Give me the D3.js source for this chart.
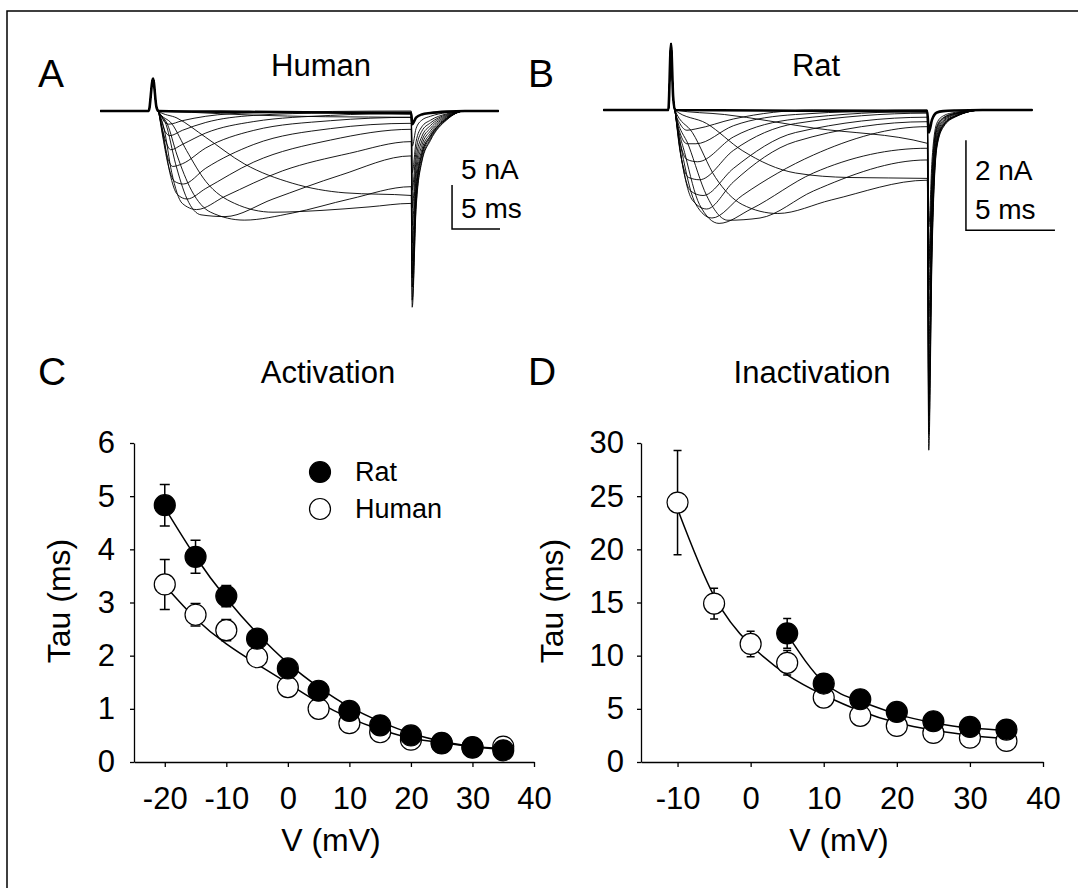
<!DOCTYPE html>
<html>
<head>
<meta charset="utf-8">
<script src="https://cdn.jsdelivr.net/npm/d3@7"></script>
<style>
  body { margin: 0; background: #fff; }
  text { font-family: "Liberation Sans", Arial, sans-serif; fill: #000; }
</style>
</head>
<body>
<svg id="fig" width="1078" height="888"></svg>
<script>
// ---------- data: activation / inactivation time constants ----------
const actV        = [-20, -15, -10, -5, 0, 5, 10, 15, 20, 25, 30, 35];
const actRat      = [4.83, 3.86, 3.12, 2.32, 1.76, 1.34, 0.96, 0.69, 0.50, 0.36, 0.28, 0.22];
const actRatErr   = [0.39, 0.31, 0.20, 0.12, 0.08, 0.06, 0.05, 0.05, 0.04, 0.04, 0.03, 0.03];
const actHuman    = [3.34, 2.77, 2.48, 1.97, 1.41, 1.00, 0.73, 0.56, 0.42, 0.35, 0.27, 0.29];
const actHumanErr = [0.47, 0.21, 0.20, 0.12, 0.08, 0.05, 0.04, 0.04, 0.03, 0.03, 0.03, 0.03];
const actRatFit   = [4.78, 3.86, 3.08, 2.42, 1.86, 1.41, 1.04, 0.76, 0.54, 0.39, 0.29, 0.23];
const actHumanFit = [3.32, 2.70, 2.22, 1.84, 1.48, 1.12, 0.83, 0.61, 0.45, 0.36, 0.29, 0.25];

const inactHumanV   = [-10, -5, 0, 5, 10, 15, 20, 25, 30, 35];
const inactHuman    = [24.4, 14.9, 11.1, 9.33, 6.06, 4.34, 3.39, 2.73, 2.29, 1.98];
const inactHumanErr = [4.9, 1.45, 1.2, 1.15, 0.6, 0.4, 0.3, 0.25, 0.2, 0.2];
const inactHumanFit = [23.8, 15.6, 11.0, 8.2, 6.3, 4.8, 3.7, 3.0, 2.5, 2.2];
const inactRatV     = [5, 10, 15, 20, 25, 30, 35];
const inactRat      = [12.1, 7.38, 5.9, 4.71, 3.83, 3.3, 3.05];
const inactRatErr   = [1.4, 0.6, 0.4, 0.35, 0.3, 0.25, 0.25];
const inactRatFit   = [12.0, 7.5, 5.7, 4.5, 3.7, 3.2, 3.0];

const actXTicks   = [-20, -10, 0, 10, 20, 30, 40];
const actYTicks   = [0, 1, 2, 3, 4, 5, 6];
const inactXTicks = [-10, 0, 10, 20, 30, 40];
const inactYTicks = [0, 5, 10, 15, 20, 25, 30];

// ---------- data: current traces (t in ms, I in nA) ----------
// human: capacitive transient, step currents, tail currents
const humanSpike = [[-5.5, 0], [-0.45, 0], [0, 3.7], [0.35, 0.5], [0.55, 0]];
const humanStep = [
  [[10, -0.1], [26.9, -0.27]],
  [[4, -0.15], [10, -0.45], [18, -0.65], [26.9, -0.72]],
  [[2.5, -0.8], [5.5, -3], [9.5, -6], [14.5, -8.2], [20, -9.3], [26.9, -9.6]],
  [[2, -1.5], [3.5, -4.5], [5.5, -8], [8.5, -10.5], [12.5, -11.5], [17.5, -11.3], [22.5, -10.9], [26.9, -10.5]],
  [[1.5, -1.5], [2.5, -5], [4, -9], [6, -11.5], [9.5, -12.4], [14.5, -11.6], [20.5, -10], [26.9, -8.6]],
  [[1.35, -1.5], [2.35, -6], [3.55, -10], [5, -11.8], [7.5, -12], [12.5, -10], [19.5, -7.3], [26.9, -5.1]],
  [[1.15, -2], [1.95, -7], [3.05, -10.5], [4.55, -11.2], [7.5, -9.7], [13.5, -6.8], [20.5, -4.8], [26.9, -3.48]],
  [[1.05, -2.5], [1.75, -7], [2.55, -9.5], [3.55, -10], [5.5, -8.8], [10.5, -5.8], [18.5, -3.3], [26.9, -2.08]],
  [[0.95, -2.5], [1.55, -6], [2.25, -8], [3.15, -8.3], [5.5, -6.5], [10.5, -3.8], [18.5, -2], [26.9, -1.4]],
  [[0.9, -2], [1.45, -5], [2.05, -6.3], [3.05, -6], [5.5, -4.2], [10.5, -2.2], [18.5, -1.1], [26.9, -0.72]],
  [[0.85, -1.5], [1.35, -3.5], [1.85, -4.4], [3.05, -3.8], [5.5, -2.5], [10.5, -1.2], [18.5, -0.5], [26.9, -0.27]],
  [[0.85, -1], [1.25, -2.3], [1.75, -2.8], [3.05, -2.2], [5.5, -1.3], [10.5, -0.5], [18.5, -0.2], [26.9, -0.1]],
  [[0.85, -0.6], [1.25, -1.3], [1.65, -1.5], [3.05, -1.1], [5.5, -0.6], [10.5, -0.2], [26.9, 0]]
];
const humanTailT = [27.0, 27.4, 28.0, 28.9, 30.6, 32.5, 36];
const humanTail = [
  [-1.5, -0.75, -0.39, -0.23, -0.07, 0, 0],
  [-4, -2, -1.04, -0.6, -0.18, 0, 0],
  [-19, -9.5, -4.9, -2.85, -0.86, 0, 0],
  [-22.3, -11.2, -5.8, -3.35, -1.0, 0, 0],
  [-21.5, -10.8, -5.6, -3.2, -0.97, 0, 0],
  [-20, -10, -5.2, -3, -0.9, 0, 0],
  [-18.5, -9.25, -4.8, -2.8, -0.83, 0, 0],
  [-17, -8.5, -4.4, -2.55, -0.77, 0, 0],
  [-15, -7.5, -3.9, -2.25, -0.68, 0, 0],
  [-13, -6.5, -3.4, -1.95, -0.59, 0, 0],
  [-11, -5.5, -2.9, -1.65, -0.5, 0, 0],
  [-9, -4.5, -2.3, -1.35, -0.4, 0, 0],
  [-7, -3.5, -1.8, -1.05, -0.32, 0, 0]
];

// rat
const ratSpike = [[-3.8, 0], [-0.15, 0], [0, 1.47], [0.12, 0.3], [0.22, 0]];
const ratStep = [
  [[14.4, -0.03]],
  [[3, -0.1], [8, -0.4], [14.4, -0.74]],
  [[2, -0.3], [4, -0.9], [7, -1.4], [10, -1.5], [14.4, -1.52]],
  [[1.2, -0.5], [2.5, -1.5], [4, -2.1], [6, -2.3], [9, -2.0], [14.4, -1.56]],
  [[1, -0.8], [2, -1.9], [3.2, -2.45], [5, -2.4], [8, -1.8], [14.4, -1.11]],
  [[0.8, -1], [1.6, -2.1], [2.7, -2.52], [4.5, -2.2], [8, -1.4], [14.4, -0.85]],
  [[0.7, -1.1], [1.4, -2.1], [2.3, -2.4], [4, -1.9], [8, -1.0], [14.4, -0.37]],
  [[0.6, -1.1], [1.2, -2.0], [2, -2.2], [3.5, -1.6], [7, -0.7], [14.4, -0.26]],
  [[0.55, -1], [1.1, -1.8], [1.8, -1.9], [3.5, -1.3], [7, -0.5], [14.4, -0.16]],
  [[0.5, -0.9], [1, -1.5], [1.6, -1.55], [3.5, -0.9], [7, -0.3], [14.4, -0.07]],
  [[0.5, -0.7], [0.9, -1.1], [1.5, -1.15], [3.5, -0.6], [7, -0.2], [14.4, -0.03]],
  [[0.5, -0.5], [0.9, -0.75], [1.4, -0.75], [3.5, -0.35], [7, -0.1], [14.4, 0]],
  [[0.5, -0.3], [0.9, -0.45], [1.4, -0.42], [3.5, -0.2], [8, 0], [14.4, 0]]
];
const ratTailT = [14.48, 14.66, 14.94, 15.3, 16, 17.5, 20.3];
const ratTail = [
  [-0.5, -0.22, -0.055, -0.025, -0.01, 0, 0],
  [-3.5, -1.54, -0.39, -0.18, -0.07, 0, 0],
  [-6.5, -2.86, -0.72, -0.33, -0.13, 0, 0],
  [-7.56, -3.33, -0.83, -0.38, -0.15, 0, 0],
  [-7.2, -3.17, -0.79, -0.36, -0.14, 0, 0],
  [-6.8, -2.99, -0.75, -0.34, -0.14, 0, 0],
  [-6.3, -2.77, -0.69, -0.32, -0.13, 0, 0],
  [-5.8, -2.55, -0.64, -0.29, -0.12, 0, 0],
  [-5.2, -2.29, -0.57, -0.26, -0.1, 0, 0],
  [-4.6, -2.02, -0.51, -0.23, -0.09, 0, 0],
  [-4, -1.76, -0.44, -0.2, -0.08, 0, 0],
  [-3.3, -1.45, -0.36, -0.17, -0.07, 0, 0],
  [-2.6, -1.14, -0.29, -0.13, -0.05, 0, 0]
];

// ---------- drawing ----------
const svg = d3.select("#fig");

// frame around the figure
svg.append("path")
  .attr("d", "M7,888V11H1078")
  .attr("fill", "none").attr("stroke", "#000").attr("stroke-width", 1.5);

function label(txt, x, y, size, anchor) {
  return svg.append("text").attr("x", x).attr("y", y)
    .attr("font-size", size).attr("text-anchor", anchor || "start").text(txt);
}

// panel letters and titles
label("A", 38, 87, 39);
label("B", 528, 87, 39);
label("C", 38, 385, 39);
label("D", 528, 385, 39);
label("Human", 321, 76, 31, "middle");
label("Rat", 816, 76, 31, "middle");
label("Activation", 328, 383, 31, "middle");
label("Inactivation", 812, 383, 31, "middle");

// traces
function tracePanel(spike, steps, tailT, tails, x, y, widths) {
  const line = d3.line().x(d => x(d[0])).y(d => y(d[1])).curve(d3.curveMonotoneX);
  const traces = steps.map((s, i) => spike.concat(s, tailT.map((t, j) => [t, tails[i][j]])));
  svg.append("g").selectAll("path").data(traces).join("path")
    .attr("d", line)
    .attr("fill", "none")
    .attr("stroke", "#000")
    .attr("stroke-width", (d, i) => widths(i))
    .attr("stroke-linejoin", "round");
}

// L-shaped scale bar, corner at (x0, y0) in data units
function scaleBar(x, y, x0, y0, dt, di, txtI, txtT) {
  const px = x(x0), py = y(y0);
  const w = x(x0 + dt) - px, h = py - y(y0 + di);
  svg.append("path")
    .attr("d", `M${px},${py - h}V${py}H${px + w}`)
    .attr("fill", "none").attr("stroke", "#000").attr("stroke-width", 1.5);
  label(txtI, px + 9, py - 50, 28);
  label(txtT, px + 9, py - 11, 28);
}

// A: human
const xA = d3.scaleLinear().domain([0, 5]).range([153, 201]);
const yA = d3.scaleLinear().domain([0, -5]).range([111, 155]);
tracePanel(humanSpike, humanStep, humanTailT, humanTail, xA, yA, i => i === 0 ? 2.6 : 0.9);
scaleBar(xA, yA, 31.15, -13.4, 5, 5, "5 nA", "5 ms");

// B: rat
const xB = d3.scaleLinear().domain([0, 5]).range([671, 760]);
const yB = d3.scaleLinear().domain([0, -2]).range([110, 200]);
tracePanel(ratSpike, ratStep, ratTailT, ratTail, xB, yB, i => i === 0 ? 2.6 : 0.9);
scaleBar(xB, yB, 16.57, -2.67, 5, 2, "2 nA", "5 ms");

// C and D: tau vs voltage
function tauPanel(o) {
  const x = d3.scaleLinear().domain(o.xDomain).range(o.xRange);
  const y = d3.scaleLinear().domain(o.yDomain).range([762, 443]);
  const g = svg.append("g");

  const ax = g.append("g").attr("transform", "translate(0,762)")
    .call(d3.axisBottom(x).tickValues(o.xTicks).tickFormat(d => String(d))
      .tickSize(5).tickSizeOuter(0).tickPadding(20));
  const ay = g.append("g").attr("transform", `translate(${o.xRange[0]},0)`)
    .call(d3.axisLeft(y).tickValues(o.yTicks).tickFormat(d => String(d))
      .tickSize(4).tickSizeOuter(0).tickPadding(o.yPad));
  [ax, ay].forEach(a => {
    a.selectAll("path, line").attr("stroke", "#000").attr("stroke-width", 1.3);
    a.selectAll("text").attr("font-size", 31).attr("font-family", null);
  });

  g.append("text").attr("x", (o.xRange[0] + o.xRange[1]) / 2 - 3).attr("y", 851)
    .attr("font-size", 32).attr("text-anchor", "middle").text("V (mV)");
  g.append("text").attr("transform", `translate(${o.titleX},601) rotate(-90)`)
    .attr("font-size", 32).attr("text-anchor", "middle").attr("dy", "0.35em").text("Tau (ms)");

  const fit = d3.line().x(d => x(d[0])).y(d => y(d[1])).curve(d3.curveNatural);
  o.series.forEach(s => {
    g.append("path").datum(s.v.map((v, i) => [v, s.fit[i]]))
      .attr("d", fit).attr("fill", "none").attr("stroke", "#000").attr("stroke-width", 1.5);
  });
  o.series.forEach(s => {
    const eb = g.append("g").attr("stroke", "#000").attr("stroke-width", 1.5);
    s.v.forEach((v, i) => {
      const cx = x(v), lo = y(s.tau[i] - s.err[i]), hi = y(s.tau[i] + s.err[i]);
      eb.append("path").attr("d", `M${cx},${lo}V${hi}M${cx - o.cap},${lo}H${cx + o.cap}M${cx - o.cap},${hi}H${cx + o.cap}`);
    });
  });
  o.series.forEach(s => {
    g.append("g").selectAll("circle").data(s.v).join("circle")
      .attr("cx", d => x(d)).attr("cy", (d, i) => y(s.tau[i])).attr("r", 10.5)
      .attr("fill", s.fill).attr("stroke", "#000").attr("stroke-width", 1.2);
  });
}

tauPanel({
  xDomain: [-25, 40], xRange: [134, 534], yDomain: [0, 6],
  xTicks: actXTicks, yTicks: actYTicks, yPad: 15, cap: 5, titleX: 59,
  series: [
    { v: actV, tau: actHuman, err: actHumanErr, fit: actHumanFit, fill: "#fff" },
    { v: actV, tau: actRat, err: actRatErr, fit: actRatFit, fill: "#000" }
  ]
});
tauPanel({
  xDomain: [-15, 40], xRange: [641, 1043], yDomain: [0, 30],
  xTicks: inactXTicks, yTicks: inactYTicks, yPad: 13, cap: 4, titleX: 552,
  series: [
    { v: inactHumanV, tau: inactHuman, err: inactHumanErr, fit: inactHumanFit, fill: "#fff" },
    { v: inactRatV, tau: inactRat, err: inactRatErr, fit: inactRatFit, fill: "#000" }
  ]
});

// legend in panel C
const legend = svg.append("g").selectAll("g")
  .data([{ name: "Rat", fill: "#000" }, { name: "Human", fill: "#fff" }])
  .join("g").attr("transform", (d, i) => `translate(320,${472 + i * 37})`);
legend.append("circle").attr("r", 10.5).attr("fill", d => d.fill)
  .attr("stroke", "#000").attr("stroke-width", 1.2);
legend.append("text").attr("x", 35).attr("y", 9).attr("font-size", 27).text(d => d.name);
</script>
</body>
</html>
